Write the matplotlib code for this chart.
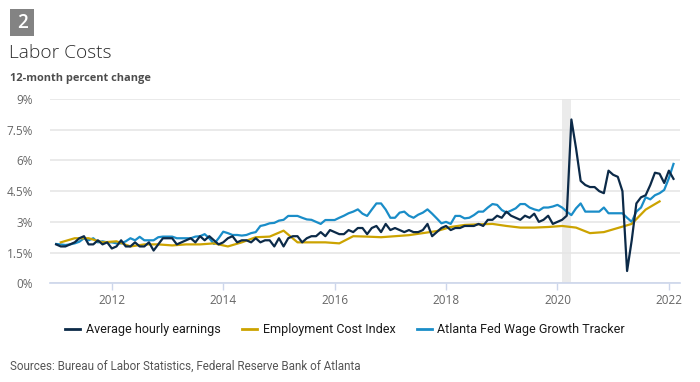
import matplotlib

matplotlib.use("Agg")
import matplotlib.pyplot as plt
import numpy as np
from matplotlib.lines import Line2D
from matplotlib.patches import Rectangle

# monthly series, Jan 2011 - Feb 2022 (12-month percent change)
start_year = 2011
ahe = [
    1.9, 1.8, 1.8, 1.9, 2.0, 2.2, 2.3, 1.9, 1.9, 2.1, 1.9, 2.0,
    1.7, 1.8, 2.1, 1.8, 1.8, 2.0, 1.8, 1.8, 2.0, 1.6, 1.9, 2.2,
    2.2, 2.2, 1.9, 2.0, 2.1, 2.2, 2.0, 2.3, 2.1, 2.3, 2.1, 1.9,
    2.0, 2.2, 2.3, 2.0, 2.1, 2.1, 2.0, 2.2, 2.0, 2.1, 2.1, 1.8,
    2.2, 1.8, 2.2, 2.3, 2.3, 2.0, 2.2, 2.3, 2.3, 2.5, 2.3, 2.6,
    2.5, 2.4, 2.4, 2.6, 2.5, 2.7, 2.7, 2.4, 2.7, 2.8, 2.5, 2.9,
    2.6, 2.7, 2.6, 2.5, 2.6, 2.5, 2.5, 2.6, 2.9, 2.3, 2.5, 2.7,
    2.8, 2.6, 2.7, 2.7, 2.8, 2.8, 2.8, 2.9, 2.8, 3.1, 3.1, 3.3,
    3.2, 3.5, 3.3, 3.2, 3.1, 3.3, 3.2, 3.4, 3.0, 3.1, 3.3, 2.9,
    3.0, 3.1, 3.3, 8.0, 6.6, 5.0, 4.8, 4.7, 4.7, 4.5, 4.4, 5.5,
    5.3, 5.2, 4.5, 0.6, 2.1, 3.9, 4.2, 4.3, 4.8, 5.4, 5.35, 4.9,
    5.5, 5.1,
]
wage_tracker = [
    1.92, 1.9, 1.87, 1.9, 1.95, 2.03, 2.2, 2.1, 2.2, 2.0, 2.05, 2.0,
    2.0, 1.95, 1.95, 2.05, 2.2, 2.1, 2.27, 2.1, 2.1, 2.1, 2.25, 2.28,
    2.28, 2.28, 2.2, 2.2, 2.2, 2.2, 2.28, 2.3, 2.4, 2.2, 1.92, 2.2,
    2.52, 2.45, 2.36, 2.36, 2.33, 2.36, 2.45, 2.5, 2.8, 2.85, 2.93, 2.95,
    3.06, 3.1, 3.29, 3.29, 3.29, 3.2, 3.12, 3.1, 3.0, 2.9, 3.09, 3.09,
    3.09, 3.2, 3.3, 3.42, 3.5, 3.61, 3.4, 3.29, 3.6, 3.9, 3.9, 3.6,
    3.2, 3.2, 3.45, 3.5, 3.3, 3.2, 3.35, 3.45, 3.61, 3.4, 3.17, 2.93,
    3.0, 2.9, 3.29, 3.29, 3.17, 3.2, 3.33, 3.5, 3.5, 3.7, 3.87, 3.83,
    3.58, 3.45, 3.55, 3.66, 3.87, 3.87, 3.7, 3.61, 3.55, 3.7, 3.7, 3.75,
    3.83, 3.7, 3.5, 3.33, 3.66, 3.9, 3.5, 3.5, 3.5, 3.5, 3.7, 3.42,
    3.42, 3.42, 3.42, 3.2, 3.0, 3.5, 3.7, 4.2, 4.1, 4.3, 4.4, 4.56,
    5.13, 5.83,
]
# quarterly series, 2011Q1 - 2021Q4
eci = [
    2.0, 2.2, 2.2, 2.0,
    2.05, 1.8, 1.9, 1.9,
    1.85, 1.9, 1.9, 1.95,
    1.8, 2.0, 2.25, 2.28,
    2.57, 2.0, 2.0, 2.0,
    1.95, 2.3, 2.28, 2.25,
    2.3, 2.35, 2.45, 2.55,
    2.75, 2.85, 2.88, 2.9,
    2.8, 2.72, 2.72, 2.75,
    2.8, 2.72, 2.45, 2.5,
    2.7, 2.9, 3.6, 4.0,
]
recession = (2020 + 1 / 12, 2020 + 3 / 12)
year_ticks = [2012, 2014, 2016, 2018, 2020, 2022]
pct_ticks = [0, 1.5, 3, 4.5, 6, 7.5, 9]
pct_labels = ["0%", "1.5%", "3%", "4.5%", "6%", "7.5%", "9%"]

NAVY = "#0c2a48"
GOLD = "#cca300"
BLUE = "#1a8dc8"

months = start_year + np.arange(len(ahe)) / 12
quarters = start_year + (np.arange(len(eci)) * 3 + 1) / 12

fig = plt.figure(figsize=(7.0, 3.82), dpi=100)
ax = fig.add_axes([50 / 700, 1 - 283.3 / 382, 630 / 700, 184.3 / 382])

ax.axvspan(*recession, color="#ebebeb", lw=0, zorder=0)
ax.plot(months, ahe, color=NAVY, lw=1.6, zorder=4)
ax.plot(quarters, eci, color=GOLD, lw=1.6, zorder=3)
ax.plot(months, wage_tracker, color=BLUE, lw=1.6, zorder=2)

ax.set_xlim(2010.89, 2022.2)
ax.set_ylim(0, 9)
ax.set_xticks(year_ticks)
ax.set_yticks(pct_ticks)
ax.set_yticklabels(pct_labels)
ax.grid(axis="y", color="#e6e6e6", lw=1.2)
ax.set_axisbelow(True)
for side in ("top", "right", "left"):
    ax.spines[side].set_visible(False)
ax.spines["bottom"].set_color("#ccd6eb")
ax.spines["bottom"].set_linewidth(1.2)
ax.tick_params(axis="x", colors="#ccd6eb", length=5, width=1, labelcolor="#666666",
               labelsize=8.5, pad=3)
ax.tick_params(axis="y", length=0, labelcolor="#666666", labelsize=8.5, pad=12)
for lbl in ax.get_xticklabels() + ax.get_yticklabels():
    lbl.set_family("Open Sans")

# header
fig.patches.append(Rectangle((10 / 700, 1 - 36 / 382), 24 / 700, 27 / 382,
                             transform=fig.transFigure, facecolor="#838383",
                             edgecolor="none"))
fig.text(22 / 700, 1 - 22.5 / 382, "2", color="white", fontsize=13.5, ha="center",
         va="center", family="Open Sans", fontweight="semibold")
fig.text(9 / 700, 1 - 53.5 / 382, "Labor Costs", fontsize=13.8, color="#2b2b2b",
         va="center", family="Open Sans", fontweight="light")
fig.text(10 / 700, 1 - 78 / 382, "12-month percent change", fontsize=7.9,
         color="#4d4d4d", va="center", family="Open Sans", fontweight="bold")

handles = [
    Line2D([0], [0], color=NAVY, lw=2, label="Average hourly earnings"),
    Line2D([0], [0], color=GOLD, lw=2, label="Employment Cost Index"),
    Line2D([0], [0], color=BLUE, lw=2, label="Atlanta Fed Wage Growth Tracker"),
]
fig.legend(handles=handles, loc="center", bbox_to_anchor=(0.493, 1 - 330 / 382),
           ncol=3, frameon=False, handlelength=1.2, handletextpad=0.45,
           columnspacing=1.7, prop={"family": "Roboto", "size": 9},
           labelcolor="#1a1a1a")

fig.text(10 / 700, 1 - 366 / 382,
         "Sources: Bureau of Labor Statistics, Federal Reserve Bank of Atlanta",
         fontsize=8.4, color="#555555", va="center", family="Roboto")

fig.savefig("out.png", dpi=100)
